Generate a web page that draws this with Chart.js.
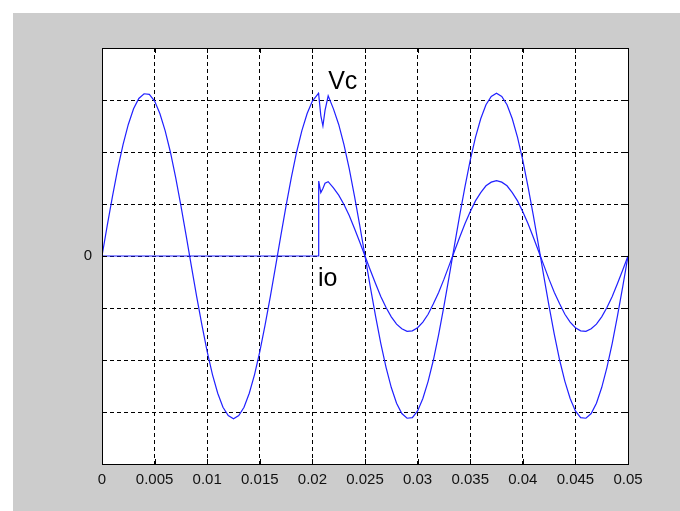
<!DOCTYPE html>
<html>
<head>
<meta charset="utf-8">
<script src="https://cdn.jsdelivr.net/npm/chart.js@4"></script>
<style>
  body { margin: 0; background: #fff; }
  canvas { display: block; }
</style>
</head>
<body>
<canvas id="chart" width="680" height="511"></canvas>
<script>
// time axis (s), denser around the load switching at ~0.0206 s
const times = [
  0, 0.0005, 0.001, 0.0015, 0.002, 0.0025, 0.003, 0.0035, 0.004, 0.0045,
  0.005, 0.0055, 0.006, 0.0065, 0.007, 0.0075, 0.008, 0.0085, 0.009, 0.0095,
  0.01, 0.0105, 0.011, 0.0115, 0.012, 0.0125, 0.013, 0.0135, 0.014, 0.0145,
  0.015, 0.0155, 0.016, 0.0165, 0.017, 0.0175, 0.018, 0.0185, 0.019, 0.0195,
  0.02, 0.0205, 0.02058, 0.0206, 0.0208, 0.021, 0.0212,
  0.0215, 0.022, 0.0225, 0.023, 0.0235, 0.024, 0.0245, 0.025, 0.0255, 0.026,
  0.0265, 0.027, 0.0275, 0.028, 0.0285, 0.029, 0.0295, 0.03, 0.0305, 0.031,
  0.0315, 0.032, 0.0325, 0.033, 0.0335, 0.034, 0.0345, 0.035, 0.0355, 0.036,
  0.0365, 0.037, 0.0375, 0.038, 0.0385, 0.039, 0.0395, 0.04, 0.0405, 0.041,
  0.0415, 0.042, 0.0425, 0.043, 0.0435, 0.044, 0.0445, 0.045, 0.0455, 0.046,
  0.0465, 0.047, 0.0475, 0.048, 0.0485, 0.049, 0.0495, 0.05
];

// capacitor voltage Vc
const vc = [
  0, 0.59, 1.15, 1.68, 2.14, 2.53, 2.83, 3.03, 3.12, 3.11,
  2.98, 2.74, 2.41, 2.00, 1.51, 0.97, 0.39, -0.20, -0.78, -1.33,
  -1.84, -2.28, -2.64, -2.91, -3.07, -3.13, -3.07, -2.91, -2.64, -2.28,
  -1.84, -1.33, -0.78, -0.20, 0.39, 0.97, 1.51, 2.00, 2.41, 2.74,
  2.98, 3.11, 3.13, 3.10, 2.70, 2.50, 2.80,
  3.08, 2.83, 2.53, 2.14, 1.68, 1.15, 0.59, 0, -0.59, -1.15,
  -1.68, -2.14, -2.53, -2.83, -3.03, -3.12, -3.11, -2.98, -2.74, -2.41,
  -2.00, -1.51, -0.97, -0.39, 0.20, 0.78, 1.33, 1.84, 2.28, 2.64,
  2.91, 3.07, 3.13, 3.07, 2.91, 2.64, 2.28, 1.84, 1.33, 0.78,
  0.20, -0.39, -0.97, -1.51, -2.00, -2.41, -2.74, -2.98, -3.11, -3.12,
  -3.03, -2.83, -2.53, -2.14, -1.68, -1.15, -0.59, 0
];

// output current io (zero until the load is switched in)
const io = [
  0, 0, 0, 0, 0, 0, 0, 0, 0, 0,
  0, 0, 0, 0, 0, 0, 0, 0, 0, 0,
  0, 0, 0, 0, 0, 0, 0, 0, 0, 0,
  0, 0, 0, 0, 0, 0, 0, 0, 0, 0,
  0, 0, 0, 1.44, 1.22, 1.30, 1.40,
  1.43, 1.31, 1.17, 0.99, 0.78, 0.53, 0.27, 0, -0.27, -0.53,
  -0.78, -0.99, -1.17, -1.31, -1.40, -1.45, -1.44, -1.38, -1.27, -1.12,
  -0.92, -0.70, -0.45, -0.18, 0.09, 0.36, 0.62, 0.85, 1.06, 1.22,
  1.35, 1.42, 1.45, 1.42, 1.35, 1.22, 1.06, 0.85, 0.62, 0.36,
  0.09, -0.18, -0.45, -0.70, -0.92, -1.12, -1.27, -1.38, -1.44, -1.45,
  -1.40, -1.31, -1.17, -0.99, -0.78, -0.53, -0.27, 0
];

const xTickLabels = ['0', '0.005', '0.01', '0.015', '0.02', '0.025', '0.03', '0.035', '0.04', '0.045', '0.05'];

const curveLabels = [
  { text: 'Vc', x: 0.0215, y: 3.21 },
  { text: 'io', x: 0.02053, y: -0.58 }
];

const FONT = '"Liberation Sans", Arial, sans-serif';

const figurePlugin = {
  id: 'figure',
  beforeDraw(chart) {
    const { ctx, chartArea: a } = chart;
    ctx.save();
    ctx.fillStyle = '#fff';
    ctx.fillRect(0, 0, chart.width, chart.height);
    ctx.fillStyle = '#cccccc';
    ctx.fillRect(13, 13, chart.width - 13, chart.height - 13);
    ctx.fillStyle = '#fff';
    ctx.fillRect(a.left, a.top, a.right - a.left, a.bottom - a.top);
    ctx.restore();
  },
  afterDraw(chart) {
    const { ctx, chartArea: a, scales } = chart;
    ctx.save();
    ctx.strokeStyle = '#000';
    ctx.lineWidth = 1;
    ctx.strokeRect(a.left + 0.5, a.top + 0.5, a.right - a.left, a.bottom - a.top);
    // inward tick marks on all four sides
    ctx.beginPath();
    scales.x.ticks.forEach((t, i) => {
      const px = Math.round(scales.x.getPixelForTick(i)) + 0.5;
      ctx.moveTo(px, a.top); ctx.lineTo(px, a.top + 5);
      ctx.moveTo(px, a.bottom); ctx.lineTo(px, a.bottom - 5);
    });
    scales.y.ticks.forEach((t, i) => {
      const py = Math.round(scales.y.getPixelForTick(i)) + 0.5;
      ctx.moveTo(a.left, py); ctx.lineTo(a.left + 5, py);
      ctx.moveTo(a.right, py); ctx.lineTo(a.right - 5, py);
    });
    ctx.stroke();
    ctx.fillStyle = '#000';
    ctx.font = '25px ' + FONT;
    ctx.textBaseline = 'alphabetic';
    curveLabels.forEach(l => {
      ctx.fillText(l.text, scales.x.getPixelForValue(l.x), scales.y.getPixelForValue(l.y));
    });
    ctx.restore();
  }
};

const toPoints = (ys) => times.map((t, i) => ({ x: t, y: ys[i] }));

new Chart(document.getElementById('chart'), {
  type: 'line',
  data: {
    datasets: [
      { label: 'Vc', data: toPoints(vc), borderColor: '#2020ff', borderWidth: 1.2, pointRadius: 0, tension: 0 },
      { label: 'io', data: toPoints(io), borderColor: '#2020ff', borderWidth: 1.2, pointRadius: 0, tension: 0 }
    ]
  },
  options: {
    responsive: false,
    animation: false,
    events: [],
    layout: { padding: { top: 48, right: 52, left: 0, bottom: 0 } },
    plugins: { legend: { display: false }, tooltip: { enabled: false } },
    scales: {
      x: {
        type: 'linear',
        min: 0,
        max: 0.05,
        afterFit: (s) => { s.height = 47; },
        afterBuildTicks: (s) => { s.ticks = xTickLabels.map((_, i) => ({ value: i * 0.005 })); },
        ticks: {
          callback: (v, i) => xTickLabels[i],
          autoSkip: false,
          maxRotation: 0,
          padding: 7,
          color: '#111',
          font: { family: FONT, size: 15 }
        },
        grid: { color: '#000', drawTicks: false, lineWidth: 1 },
        border: { display: true, color: '#000', dash: [4, 3] }
      },
      y: {
        min: -4,
        max: 4,
        afterFit: (s) => { s.width = 102; },
        ticks: {
          stepSize: 1,
          autoSkip: false,
          callback: (v) => (v === 0 ? '0' : ''),
          padding: 10,
          color: '#111',
          font: { family: FONT, size: 15 }
        },
        grid: { color: '#000', drawTicks: false, lineWidth: 1 },
        border: { display: true, color: '#000', dash: [4, 3] }
      }
    }
  },
  plugins: [figurePlugin]
});
</script>
</body>
</html>
